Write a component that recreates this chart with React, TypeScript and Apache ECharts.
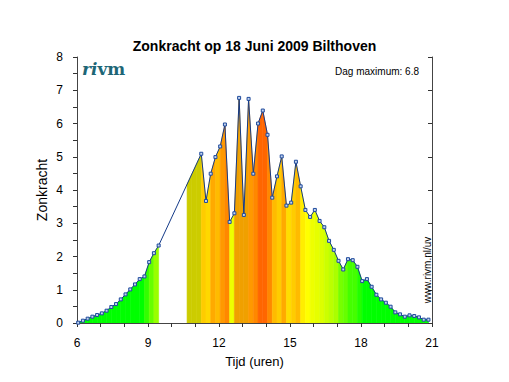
import React, { useEffect, useRef } from "react";
import * as echarts from "echarts";

// Measurement times (hours, local time), one every 12 minutes
const sampleHours: number[] = [
  6.05, 6.25, 6.45, 6.65, 6.85, 7.05, 7.25, 7.45, 7.65, 7.85,
  8.05, 8.25, 8.45, 8.65, 8.85, 9.05, 9.25, 9.45, 9.65, 9.85,
  10.05, 10.25, 10.45, 10.65, 10.85, 11.05, 11.25, 11.45, 11.65, 11.85,
  12.05, 12.25, 12.45, 12.65, 12.85, 13.05, 13.25, 13.45, 13.65, 13.85,
  14.05, 14.25, 14.45, 14.65, 14.85, 15.05, 15.25, 15.45, 15.65, 15.85,
  16.05, 16.25, 16.45, 16.65, 16.85, 17.05, 17.25, 17.45, 17.65, 17.85,
  18.05, 18.25, 18.45, 18.65, 18.85, 19.05, 19.25, 19.45, 19.65, 19.85,
  20.05, 20.25, 20.45, 20.65, 20.85,
];

// Zonkracht (UV index) per sample, null = no measurement
const uvValues: (number | null)[] = [
  0.01, 0.07, 0.13, 0.19, 0.24, 0.29, 0.37, 0.48, 0.57, 0.71,
  0.86, 1.01, 1.16, 1.32, 1.4, 1.83, 2.1, 2.33, null, null,
  null, null, null, null, null, null, 5.09, 3.67, 4.49, 4.99,
  5.31, 5.97, 3.04, 3.3, 6.77, 3.25, 6.74, 4.49, 6.0, 6.39,
  5.66, 3.77, 4.41, 5.01, 3.53, 3.62, 4.85, 4.11, 3.4, 3.19,
  3.4, 3.07, 2.88, 2.47, 2.2, 1.87, 1.61, 1.92, 1.89, 1.69,
  1.26, 1.32, 1.09, 0.85, 0.71, 0.61, 0.49, 0.32, 0.26, 0.19,
  0.23, 0.21, 0.17, 0.1, 0.1,
];

// Colour of the band between sample i and sample i+1 (null = no band)
const bandColors: (string | null)[] = [
  "#00ff00", "#00ff00", "#00ff00", "#00ff00", "#00ff00", "#00ff00", "#00ff00",
  "#00ff00", "#00ff00", "#00ff00", "#00ff00", "#00ff00", "#00ff00", "#00ff00",
  "#33ff00", "#66ff00", "#99ff00",
  null, null, null, null, null, null,
  "#cccc00", "#cccc00", "#cccc00",
  "#ffcc00", "#ffd800", "#ffaa00", "#ffbb00", "#ff9900", "#ff8800", "#eeff00",
  "#f0a000", "#f0a000", "#f0a000", "#ff9900", "#ff8800", "#ff6600", "#ff6600",
  "#ff8800", "#ffbb00", "#ffcc00", "#ffaa00", "#ffdd00", "#ffcc00", "#ffbb00",
  "#ffee00", "#ffff00", "#eeff00", "#e6ff00", "#ddff00", "#ccff00", "#bbff00",
  "#aaff00", "#77ff00", "#66ff00", "#44ff00", "#44ff00", "#22ff00",
  "#00ff00", "#00ff00", "#00ff00", "#00ff00", "#00ff00", "#00ff00", "#00ff00",
  "#00ff00", "#00ff00", "#00ff00", "#00ff00", "#00ff00", "#00ff00", "#00ff00",
];

const xTickLabels = [6, 9, 12, 15, 18, 21];
const yTickLabels = [0, 1, 2, 3, 4, 5, 6, 7, 8];

const FONT = "Liberation Sans, Arial, Helvetica, sans-serif";

// height of the drawn (straight-segment) line at sample i
function lineHeightAt(i: number): number {
  const v = uvValues[i];
  if (v != null) return v;
  let a = i;
  while (a >= 0 && uvValues[a] == null) a--;
  let b = i;
  while (b < uvValues.length && uvValues[b] == null) b++;
  const va = uvValues[a] as number;
  const vb = uvValues[b] as number;
  const f = (sampleHours[i] - sampleHours[a]) / (sampleHours[b] - sampleHours[a]);
  return va + (vb - va) * f;
}

export default function App() {
  const ref = useRef<HTMLDivElement>(null);

  useEffect(() => {
    if (!ref.current) return;
    const chart = echarts.init(ref.current, undefined, { renderer: "svg" });

    const bandData: number[][] = [];
    const bandFill: string[] = [];
    bandColors.forEach((c, i) => {
      if (!c) return;
      bandData.push([sampleHours[i], sampleHours[i + 1], lineHeightAt(i), lineHeightAt(i + 1)]);
      bandFill.push(c);
    });

    const lineData = sampleHours.map((t, i) => [t, uvValues[i]]);
    const dayMax = Math.max(...(uvValues.filter((v) => v != null) as number[]));

    const option: any = {
      animation: false,
      backgroundColor: "#ffffff",
      textStyle: { fontFamily: FONT },
      title: {
        text: "Zonkracht op 18 Juni 2009 Bilthoven",
        left: "center",
        top: 39,
        padding: 0,
        textStyle: { fontSize: 14, fontWeight: "bold", color: "#000", fontFamily: FONT },
      },
      grid: { left: 77, right: 77, top: 57, bottom: 59, show: false },
      xAxis: [
        {
          type: "value",
          min: 6,
          max: 21,
          interval: 3,
          position: "bottom",
          name: "Tijd (uren)",
          nameLocation: "middle",
          nameGap: 32,
          nameMoveOverlap: false,
          nameTextStyle: { fontSize: 13, color: "#000", fontFamily: FONT },
          axisLine: { show: true, lineStyle: { color: "#444", width: 1 } },
          axisTick: { show: true, length: 4, inside: false, lineStyle: { color: "#333" } },
          minorTick: { show: true, splitNumber: 3, length: 4, lineStyle: { color: "#333" } },
          splitLine: { show: false },
          axisLabel: {
            fontSize: 12,
            color: "#000",
            margin: 14,
            fontFamily: FONT,
            formatter: (v: number) => (xTickLabels.includes(v) ? String(v) : ""),
          },
        },
        {
          type: "value",
          min: 6,
          max: 21,
          interval: 1,
          position: "top",
          axisLine: { show: true, lineStyle: { color: "#444", width: 1 } },
          axisTick: { show: true, length: 4, inside: true, lineStyle: { color: "#333" } },
          splitLine: { show: false },
          axisLabel: { show: false },
        },
      ],
      yAxis: [
        {
          type: "value",
          min: 0,
          max: 8,
          interval: 1,
          position: "left",
          name: "Zonkracht",
          nameLocation: "middle",
          nameGap: 28,
          nameMoveOverlap: false,
          nameTextStyle: { fontSize: 14, color: "#000", fontFamily: FONT },
          axisLine: { show: true, lineStyle: { color: "#444", width: 1 } },
          axisTick: { show: true, length: 4, inside: false, lineStyle: { color: "#333" } },
          minorTick: { show: true, splitNumber: 2, length: 4, lineStyle: { color: "#333" } },
          splitLine: { show: false },
          axisLabel: {
            fontSize: 12,
            color: "#000",
            margin: 14,
            fontFamily: FONT,
            formatter: (v: number) => (yTickLabels.includes(v) ? String(v) : ""),
          },
        },
        {
          type: "value",
          min: 0,
          max: 8,
          interval: 1,
          position: "right",
          axisLine: { show: true, lineStyle: { color: "#444", width: 1 } },
          axisTick: { show: true, length: 4, inside: true, lineStyle: { color: "#333" } },
          splitLine: { show: false },
          axisLabel: { show: false },
        },
      ],
      graphic: [
        {
          type: "text",
          left: 82,
          top: 60,
          style: {
            text: "{a|ri}{b|vm}",
            rich: {
              a: { fontFamily: "DejaVu Serif", fontStyle: "italic", fontWeight: "bold", fontSize: 17, fill: "#1d6676" },
              b: { fontFamily: "DejaVu Serif", fontWeight: "bold", fontSize: 17, fill: "#1d6676" },
            },
          },
          z: 10,
        },
        {
          type: "text",
          x: 419,
          y: 71.5,
          style: {
            text: "Dag maximum: " + dayMax.toFixed(1),
            align: "right",
            verticalAlign: "middle",
            fontSize: 10,
            fontFamily: FONT,
            fill: "#000",
          },
          z: 10,
        },
        {
          type: "text",
          x: 427.5,
          y: 270,
          rotation: Math.PI / 2,
          style: {
            text: "www.rivm.nl/uv",
            align: "center",
            verticalAlign: "middle",
            fontSize: 10,
            fontFamily: FONT,
            fill: "#000",
          },
          z: 10,
        },
      ],
      series: [
        {
          type: "custom",
          xAxisIndex: 0,
          yAxisIndex: 0,
          data: bandData,
          encode: { x: [0, 1], y: [2, 3] },
          clip: true,
          z: 1,
          silent: true,
          renderItem: (params: any, api: any) => {
            const x0 = api.value(0);
            const x1 = api.value(1);
            const y0 = api.value(2);
            const y1 = api.value(3);
            const color = bandFill[params.dataIndex];
            return {
              type: "polygon",
              shape: {
                points: [api.coord([x0, 0]), api.coord([x0, y0]), api.coord([x1, y1]), api.coord([x1, 0])],
              },
              style: { fill: color, stroke: color, lineWidth: 0.6 },
            };
          },
        },
        {
          type: "line",
          xAxisIndex: 0,
          yAxisIndex: 0,
          data: lineData,
          connectNulls: true,
          showAllSymbol: true,
          symbol: "rect",
          symbolSize: 3,
          z: 3,
          lineStyle: { color: "#143a88", width: 1 },
          itemStyle: { color: "#c4d4ee", borderColor: "#1f4a9c", borderWidth: 1 },
        },
      ],
    };

    chart.setOption(option);
    return () => chart.dispose();
  }, []);

  return (
    <div
      ref={ref}
      style={{ position: "absolute", left: 0, top: 0, width: 509, height: 382 }}
    />
  );
}
